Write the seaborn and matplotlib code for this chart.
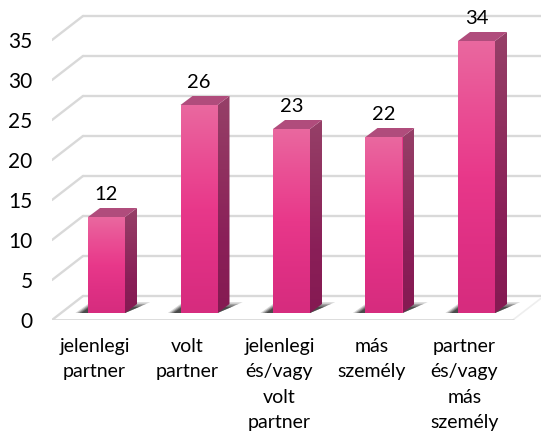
import numpy as np
import pandas as pd
import matplotlib
matplotlib.use("Agg")
import matplotlib.pyplot as plt
from matplotlib.colors import LinearSegmentedColormap
from matplotlib.patches import Polygon
import seaborn as sns

categories = ["jelenlegi\npartner", "volt\npartner", "jelenlegi\nés/vagy\nvolt\npartner",
              "más\nszemély", "partner\nés/vagy\nmás\nszemély"]
values = [12, 26, 23, 22, 34]
y_ticks = [0, 5, 10, 15, 20, 25, 30, 35]

W, H = 541, 438
PX_X = 92.5   # pixels per category
PX_Y = 8.0    # pixels per value unit
X0 = 106.5    # pixel of first category
Y0 = 313.0    # pixel of value 0 (front of bars)
AX_L, AX_R, AX_B = 52, 541, 320
DX = 12 / PX_X
DY = 9 / PX_Y
WALL_DX = 31 / PX_X
WALL_DY = 24 / PX_Y
FLOOR_Y = (Y0 - AX_B) / PX_Y
BAR_W = 37 / PX_X

sns.set_style("white")
plt.rcParams["font.family"] = ["Lato", "DejaVu Sans"]
fig = plt.figure(figsize=(W / 100, H / 100), dpi=100)
ax = fig.add_axes([AX_L / W, (H - AX_B) / H, (AX_R - AX_L) / W, AX_B / H])

df = pd.DataFrame({"cat": categories, "val": values})
sns.barplot(data=df, x="cat", y="val", width=BAR_W, color="#E8388A", saturation=1,
            edgecolor="none", ax=ax, zorder=2.8)

xlim = ((AX_L - X0) / PX_X, (AX_R - X0) / PX_X)
ylim = (FLOOR_Y, Y0 / PX_Y)
GRID = "#D9D9D9"
left = xlim[0]
right_front = (513 - X0) / PX_X

# walls and floor
for t in y_ticks:
    yf = t + FLOOR_Y
    ax.plot([left + WALL_DX, xlim[1] + 1], [yf + WALL_DY] * 2, color=GRID, lw=1.7, zorder=1,
            solid_capstyle="round")
    ax.plot([left, left + WALL_DX], [yf, yf + WALL_DY], color=GRID, lw=1.7, zorder=1,
            solid_capstyle="round")
ax.plot([left, right_front], [FLOOR_Y + 0.02] * 2, color=GRID, lw=2.0, zorder=1.2)
ax.plot([right_front, right_front + WALL_DX], [FLOOR_Y + 0.02, FLOOR_Y + WALL_DY],
        color="#EEEEEE", lw=1.2, zorder=1.1)

front_cmap = LinearSegmentedColormap.from_list(
    "front", ["#E9689F", "#EA4E94", "#E8388A", "#DF3084", "#D62C7E"])
side_cmap = LinearSegmentedColormap.from_list(
    "side", ["#964068", "#90305F", "#8A1F58", "#851A52"])
grad = np.linspace(0, 1, 128).reshape(-1, 1)


def fill_grad(verts, cmap, extent, z):
    im = ax.imshow(grad, cmap=cmap, extent=extent, aspect="auto", origin="upper",
                   interpolation="bilinear", zorder=z)
    im.set_clip_path(Polygon(verts, closed=True, transform=ax.transData))


for bar, v in zip(ax.patches, values):
    x0 = bar.get_x()
    x1 = x0 + bar.get_width()
    # floor shadow
    for k, a in zip([1.0, 0.85, 0.7, 0.55], [0.18, 0.28, 0.38, 0.48]):
        sx, sy = DX * 1.05 * k, DY * 1.2 * k
        ax.add_patch(Polygon([(x0 - sx, 0), (x1, 0), (x1 + 2 * sx, sy), (x0 + sx * 0.2, sy)],
                             closed=True, facecolor="#222222", edgecolor="none", alpha=a, zorder=2))
    # side face
    side = [(x1, 0), (x1 + DX, DY), (x1 + DX, v + DY), (x1, v)]
    fill_grad(side, side_cmap, (x1, x1 + DX, 0, v + DY), 2.6)
    # top face
    ax.add_patch(Polygon([(x0, v), (x1, v), (x1 + DX, v + DY), (x0 + DX, v + DY)],
                         closed=True, facecolor="#B04C7C", edgecolor="none", zorder=2.7))
    # front face
    front = [(x0, 0), (x1, 0), (x1, v), (x0, v)]
    fill_grad(front, front_cmap, (x0, x1, 0, v), 3)
    # data label
    ax.text(x0 + bar.get_width() / 2, v + 23 / PX_Y, str(v), ha="center", va="center",
            fontsize=14.5, color="#000000", zorder=4)

ax.set_xlim(*xlim)
ax.set_ylim(*ylim)
ax.set_xticks(np.arange(len(categories)) - 12 / PX_X, labels=categories, fontsize=14,
              color="#000000", linespacing=1.6)
ax.set_yticks(np.array(y_ticks) + FLOOR_Y, labels=[str(t) for t in y_ticks], fontsize=15,
              color="#000000")
ax.tick_params(axis="both", length=0)
ax.tick_params(axis="x", pad=13)
ax.tick_params(axis="y", pad=14)
ax.set_xlabel("")
ax.set_ylabel("")
ax.patch.set_alpha(0)
sns.despine(ax=ax, left=True, bottom=True)
fig.savefig("out.png", dpi=100, facecolor="white")
